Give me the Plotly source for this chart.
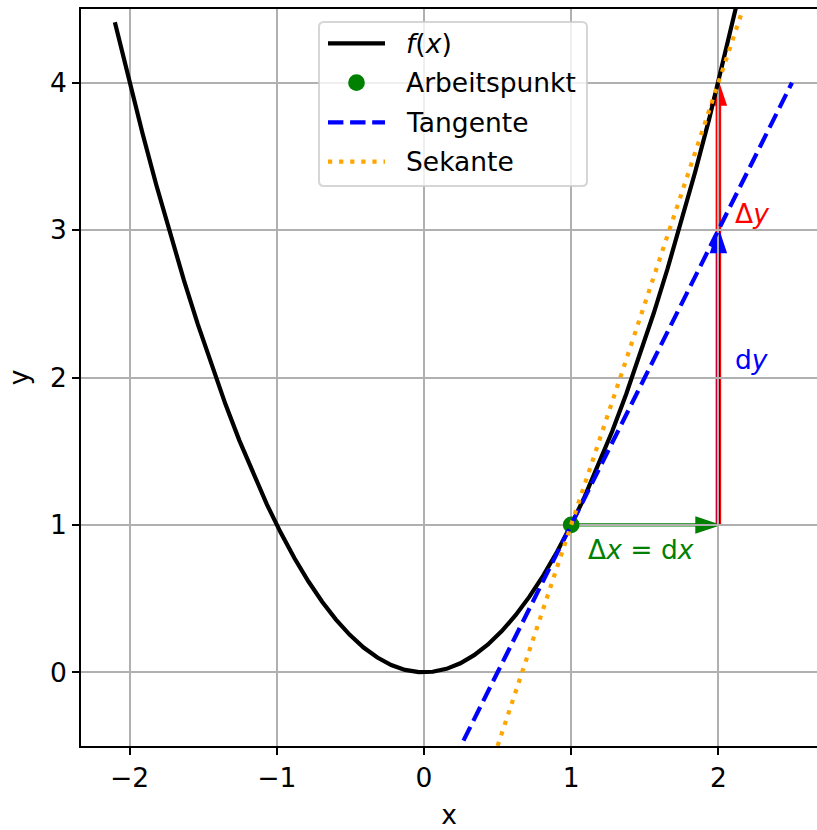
import numpy as np
import plotly.graph_objects as go

# ---- values -------------------------------------------------------------
x0 = 1.0                      # Arbeitspunkt
step = 1.0                    # Δx = dx
curve_x_range = [-2.1, 2.5]   # sampled interval of f
line_x_range = [0.0, 2.5]     # interval for tangent / secant
n_samples = 50

x_ticks = [-2, -1, 0, 1, 2]
y_ticks = [0, 1, 2, 3, 4]
x_limits = [-2.33, 2.67]
y_limits = [-0.5, 4.5]

legend_labels = ["<i>f</i>(<i>x</i>)", "Arbeitspunkt", "Tangente", "Sekante"]
label_dx = "Δ<i>x</i> = d<i>x</i>"
label_dy = "d<i>y</i>"
label_delta_y = "Δ<i>y</i>"


def f(x):
    return x ** 2


def df(x):
    return 2 * x


# ---- derived series -------------------------------------------------------
xs = np.linspace(curve_x_range[0], curve_x_range[1], n_samples)
ys = f(xs)
xl = np.linspace(line_x_range[0], line_x_range[1], n_samples)
y0 = f(x0)
tangent = y0 + df(x0) * (xl - x0)
secant_slope = (f(x0 + step) - y0) / step
secant = y0 + secant_slope * (xl - x0)
dy_val = df(x0) * step
delta_y_val = f(x0 + step) - y0

FONT = "DejaVu Sans"
FS = 26.5
LW = 4.2
GRID = "#b0b0b0"
C_F, C_PT, C_TAN, C_SEC = "black", "green", "blue", "orange"
C_DX, C_DY, C_DELTA = "green", "blue", "red"
DASH_TAN = "15.4px,6.7px"
DASH_SEC = "4.2px,6.9px"

fig = go.Figure()
fig.add_trace(go.Scatter(x=xs, y=ys, mode="lines", line=dict(color=C_F, width=LW)))
fig.add_trace(go.Scatter(x=[x0], y=[y0], mode="markers",
                         marker=dict(color=C_PT, size=16.7, line=dict(width=0))))
fig.add_trace(go.Scatter(x=xl, y=tangent, mode="lines",
                         line=dict(color=C_TAN, width=LW, dash=DASH_TAN)))
fig.add_trace(go.Scatter(x=xl, y=secant, mode="lines",
                         line=dict(color=C_SEC, width=LW, dash=DASH_SEC)))


def arrow_path(xa, ya, ddx, ddy, width, head_width=0.1, head_length=0.15):
    """Outline of a straight arrow (head included in its length)."""
    length = np.hypot(ddx, ddy)
    ux, uy = ddx / length, ddy / length
    px, py = -uy, ux
    sl = length - head_length
    w, hw = width / 2, head_width / 2
    pts = [
        (xa + px * w, ya + py * w),
        (xa + ux * sl + px * w, ya + uy * sl + py * w),
        (xa + ux * sl + px * hw, ya + uy * sl + py * hw),
        (xa + ddx, ya + ddy),
        (xa + ux * sl - px * hw, ya + uy * sl - py * hw),
        (xa + ux * sl - px * w, ya + uy * sl - py * w),
        (xa - px * w, ya - py * w),
    ]
    return "M " + " L ".join(f"{a:.5f},{b:.5f}" for a, b in pts) + " Z"


arrows = [
    (x0 + step, y0, 0.0, delta_y_val, 0.024, C_DELTA),
    (x0 + step, y0, 0.0, dy_val, 0.008, C_DY),
    (x0, y0, step, 0.0, 0.008, C_DX),
]
for xa, ya, ddx, ddy, w, col in arrows:
    fig.add_shape(type="path", xref="x", yref="y", layer="below",
                  path=arrow_path(xa, ya, ddx, ddy, w),
                  fillcolor=col, line=dict(color=col, width=2))

text_font = dict(family=FONT, size=FS)
fig.add_annotation(x=x0 + 0.1, y=y0 - 0.17, text=label_dx, showarrow=False,
                   xanchor="left", yanchor="middle", font=dict(text_font, color=C_DX))
fig.add_annotation(x=x0 + step + 0.1, y=2.12, text=label_dy, showarrow=False,
                   xanchor="left", yanchor="middle", font=dict(text_font, color=C_DY))
fig.add_annotation(x=x0 + step + 0.1, y=3.11, text=label_delta_y, showarrow=False,
                   xanchor="left", yanchor="middle", font=dict(text_font, color=C_DELTA))

# ---- legend box (drawn in paper coordinates) ------------------------------
ML, MR, MT, MB = 81, 0, 9, 84
W, H = 817, 830
PL, PR, PT, PB = ML, W - MR, MT, H - MB


def pxx(p):
    return (p - PL) / (PR - PL)


def pxy(p):
    return (PB - p) / (PB - PT)


bx0, bx1, by0, by1, r = 319, 587, 22, 186, 5
rx, ry = r / (PR - PL), r / (PB - PT)
X0, X1, Y0, Y1 = pxx(bx0), pxx(bx1), pxy(by1), pxy(by0)
box = (f"M {X0 + rx},{Y1} L {X1 - rx},{Y1} Q {X1},{Y1} {X1},{Y1 - ry} "
       f"L {X1},{Y0 + ry} Q {X1},{Y0} {X1 - rx},{Y0} L {X0 + rx},{Y0} "
       f"Q {X0},{Y0} {X0},{Y0 + ry} L {X0},{Y1 - ry} Q {X0},{Y1} {X0 + rx},{Y1} Z")
fig.add_shape(type="path", xref="paper", yref="paper", layer="above", path=box,
              fillcolor="rgba(255,255,255,0.8)", line=dict(color="rgba(204,204,204,0.8)", width=2))

rows = [43.3, 82.7, 122.3, 161.7]
hx0, hx1, tx = 328, 385, 404
styles = [
    dict(color=C_F, width=LW),
    None,
    dict(color=C_TAN, width=LW, dash=DASH_TAN),
    dict(color=C_SEC, width=LW, dash=DASH_SEC),
]
for ry_px, st in zip(rows, styles):
    if st is None:
        rad = 8.35
        cx = (hx0 + hx1) / 2
        fig.add_shape(type="circle", xref="paper", yref="paper", layer="above",
                      x0=pxx(cx - rad), x1=pxx(cx + rad), y0=pxy(ry_px + rad), y1=pxy(ry_px - rad),
                      fillcolor=C_PT, line=dict(width=0))
    else:
        fig.add_shape(type="line", xref="paper", yref="paper", layer="above",
                      x0=pxx(hx0), x1=pxx(hx1), y0=pxy(ry_px), y1=pxy(ry_px), line=st)
for ry_px, lab in zip(rows, legend_labels):
    fig.add_annotation(xref="paper", yref="paper", x=pxx(tx), y=pxy(ry_px), text=lab,
                       showarrow=False, xanchor="left", yanchor="middle",
                       font=dict(text_font, color="black"))

axis_common = dict(
    showgrid=True, gridcolor=GRID, gridwidth=1.7, zeroline=False,
    showline=True, linecolor="black", linewidth=1.7,
    ticks="outside", ticklen=7, tickwidth=1.7, tickcolor="black",
    tickfont=dict(family=FONT, size=FS, color="black"),
    title_font=dict(family=FONT, size=FS, color="black"),
)
fig.update_xaxes(range=x_limits, tickvals=x_ticks, mirror=True,
                 title_text="x", title_standoff=14, **axis_common)
fig.update_yaxes(range=y_limits, tickvals=y_ticks, mirror=False,
                 title_text="y", title_standoff=14, **axis_common)

fig.update_layout(
    width=W, height=H, showlegend=False,
    margin=dict(l=ML, r=MR, t=MT, b=MB, pad=0),
    plot_bgcolor="white", paper_bgcolor="white",
    font=dict(family=FONT, size=FS, color="black"),
)
fig.write_html("out.html")
